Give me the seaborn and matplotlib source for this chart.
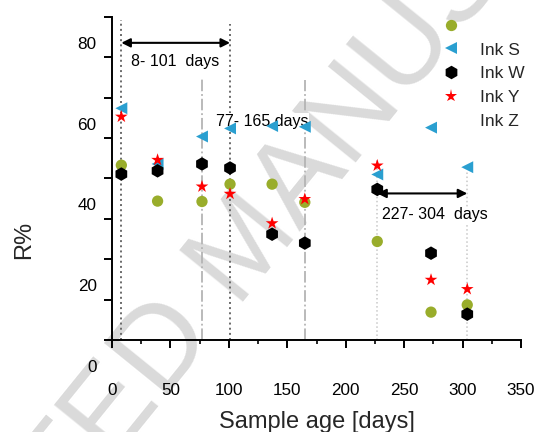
import matplotlib
matplotlib.use("Agg")
import matplotlib.pyplot as plt
import numpy as np
import pandas as pd
import seaborn as sns
from matplotlib.lines import Line2D
from matplotlib.ticker import FixedLocator, NullFormatter
from matplotlib.transforms import ScaledTranslation

# Sampling ages (days) and reflectance R% per ink
days = [8, 39, 77, 101, 137, 165, 227, 273, 304]
ink_s = [57.4, 43.6, 50.4, 52.4, 53.0, 52.8, 41.0, 52.6, 42.8]
ink_w = [41.1, 41.9, 43.6, 42.6, 26.2, 24.0, 37.3, 21.5, 6.4]
ink_y = [55.3, 44.6, 38.0, 36.2, 28.9, 34.9, 43.2, 14.9, 12.6]
ink_z = [43.3, 34.4, 34.3, 38.6, 38.6, 34.1, 24.4, 6.9, 8.7]

legend_order = ["Ink S", "Ink W", "Ink Y", "Ink Z"]
draw_order = ["Ink S", "Ink Z", "Ink W", "Ink Y"]
series = {"Ink S": ink_s, "Ink W": ink_w, "Ink Y": ink_y, "Ink Z": ink_z}

colors = {"Ink S": "#2a9fd0", "Ink W": "#000000", "Ink Y": "#ff0000", "Ink Z": "#99ad2b"}
markers = {"Ink S": "<", "Ink W": "h", "Ink Y": "*", "Ink Z": "o"}
sizes = {"Ink S": 74, "Ink W": 95, "Ink Y": 92, "Ink Z": 66}

# Storage periods: start day, end day, label, arrow height (R%), label position
periods = [
    (8, 101, "8- 101  days", 73.6, (53.9, 69.1)),
    (77, 165, "77- 165 days", None, (128.4, 54.1)),
    (227, 304, "227- 304  days", 36.3, (276.0, 31.0)),
]
# Vertical guides at the period boundaries: day, upper end (R%), style
guides = [
    (8, 79.3, "dotted_dark"),
    (101, 78.3, "dotted_dark"),
    (77, 64.9, "dashdot"),
    (165, 64.4, "dashdot"),
    (227, 44.6, "dotted_light"),
    (304, 42.1, "dotted_light"),
]
guide_styles = {
    "dotted_dark": dict(color="#6a6a6a", linestyle=":", linewidth=1.4),
    "dashdot": dict(color="#b4b4b4", linestyle="-.", linewidth=1.3),
    "dotted_light": dict(color="#c8c8c8", linestyle=":", linewidth=1.1),
}

xticks_major = [0, 50, 100, 150, 200, 250, 300, 350]
xticks_minor = [25, 75, 125, 175, 225, 275, 325]
yticks_major = [0, 20, 40, 60, 80]
yticks_minor = [10, 30, 50, 70]

df = pd.DataFrame(
    {
        "day": days * len(draw_order),
        "R": sum((series[k] for k in draw_order), []),
        "ink": sum(([k] * len(days) for k in draw_order), []),
    }
)

sns.set_theme(style="ticks")
plt.rcParams["font.family"] = ["Liberation Sans", "DejaVu Sans"]

fig = plt.figure(figsize=(5.38, 4.32), dpi=100)
ax = fig.add_axes([112 / 538, 1 - 340 / 432, 409 / 538, 323 / 432])
ax.patch.set_alpha(0)

# faint diagonal watermark behind the plot
fig.text(0.459, 0.424, "ACCEPTED MANUSCRIPT", rotation=51, rotation_mode="anchor",
         ha="center", va="center", fontsize=86, color="#dadada", zorder=-5)

for day, top, style in guides:
    ax.vlines(day, 0, top, zorder=1, **guide_styles[style])

sns.scatterplot(
    data=df, x="day", y="R", hue="ink", style="ink", size="ink",
    palette=colors, markers=markers, sizes=sizes,
    linewidth=0, legend=False, ax=ax, zorder=4, clip_on=False,
)

for start, end, label, arrow_y, (tx, ty) in periods:
    if arrow_y is not None:
        ax.annotate("", xy=(end, arrow_y), xytext=(start, arrow_y),
                    arrowprops=dict(arrowstyle="<|-|>", color="black", lw=1.5,
                                    mutation_scale=13, shrinkA=0, shrinkB=0),
                    zorder=3)
    ax.text(tx, ty, label, ha="center", va="center", fontsize=11.5, color="black",
            zorder=3, bbox=dict(facecolor="white", edgecolor="none", pad=0.5))

ax.set_xlim(0, 350)
ax.set_ylim(0, 80)
ax.xaxis.set_major_locator(FixedLocator(xticks_major))
ax.xaxis.set_minor_locator(FixedLocator(xticks_minor))
ax.yaxis.set_major_locator(FixedLocator(yticks_major))
ax.yaxis.set_minor_locator(FixedLocator(yticks_minor))
ax.yaxis.set_minor_formatter(NullFormatter())
ax.xaxis.set_minor_formatter(NullFormatter())

for side in ("top", "right"):
    ax.spines[side].set_visible(False)
for side in ("left", "bottom"):
    ax.spines[side].set_linewidth(1.4)
    ax.spines[side].set_color("black")

ax.tick_params(axis="x", which="major", direction="out", length=6, width=1.4,
               pad=25, labelsize=12.3, colors="black")
ax.tick_params(axis="x", which="minor", direction="out", length=3, width=1.4)
ax.tick_params(axis="y", which="both", direction="out", length=6, width=1.4,
               pad=5, labelsize=12.3, colors="black")

# value labels sit a little below their tick marks
shift = ScaledTranslation(0, -0.26, fig.dpi_scale_trans)
for lab in ax.get_yticklabels():
    lab.set_transform(lab.get_transform() + shift)

ax.set_xlabel("Sample age [days]", fontsize=17)
ax.xaxis.set_label_coords(0.501, -0.22)
ax.xaxis.label.set_verticalalignment("top")
ax.set_ylabel("R%", fontsize=17)
ax.yaxis.set_label_coords(-0.214, 0.31)
ax.yaxis.label.set_verticalalignment("center")

handles = []
for k in legend_order:
    if k == "Ink Z":
        handles.append(Line2D([], [], linestyle="none", marker=None))
    else:
        handles.append(Line2D([], [], linestyle="none", marker=markers[k],
                              markerfacecolor=colors[k], markeredgewidth=0,
                              markersize=np.sqrt(sizes[k])))
ax.legend(handles, legend_order, loc="upper left",
          bbox_to_anchor=((442.3 - 112) / 409, (340 - 42.4) / 323),
          frameon=False, fontsize=12.5, handlelength=1.0, handletextpad=1.17,
          labelspacing=0.49, borderpad=0, borderaxespad=0)
# the Ink Z key sits above the legend block
ax.plot([(451 - 112) / 409], [(340 - 25) / 323], marker=markers["Ink Z"],
        markersize=np.sqrt(sizes["Ink Z"]), markerfacecolor=colors["Ink Z"],
        markeredgewidth=0, linestyle="none", transform=ax.transAxes, clip_on=False)

fig.savefig("out.png", dpi=100)
